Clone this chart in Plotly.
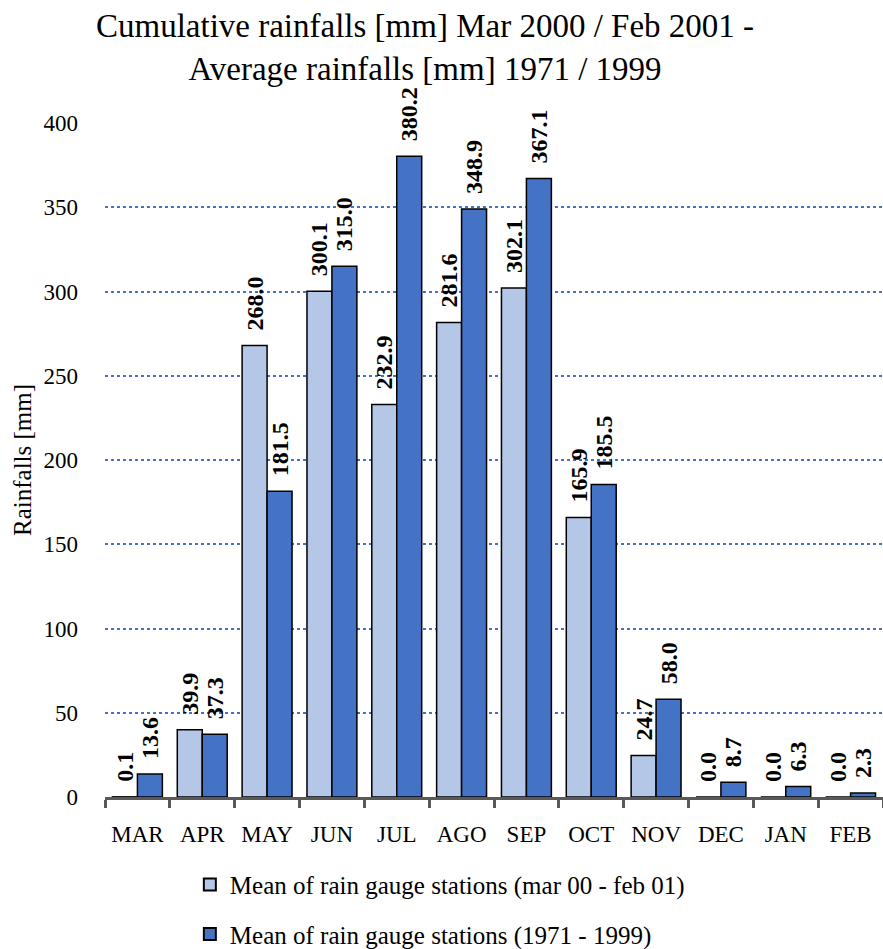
import plotly.graph_objects as go

months = ["MAR", "APR", "MAY", "JUN", "JUL", "AGO", "SEP", "OCT", "NOV", "DEC", "JAN", "FEB"]
rain_2000_01 = [0.1, 39.9, 268.0, 300.1, 232.9, 281.6, 302.1, 165.9, 24.7, 0.0, 0.0, 0.0]
rain_1971_99 = [13.6, 37.3, 181.5, 315.0, 380.2, 348.9, 367.1, 185.5, 58.0, 8.7, 6.3, 2.3]
y_ticks = [0, 50, 100, 150, 200, 250, 300, 350, 400]

serif = "Book Antiqua, Palatino Linotype, Liberation Serif, serif"
label_font = dict(family="Liberation Serif, Times New Roman, serif", size=24, color="black")
NBSP = "\u00a0"


def value_labels(values):
    # leading non-breaking spaces push the rotated label a little off the bar top
    return [f"<b>{NBSP * 2}{v:.1f}</b>" for v in values]


fig = go.Figure()
fig.add_trace(go.Bar(
    x=months, y=rain_2000_01,
    name="Mean of rain gauge stations (mar 00 - feb 01)", legendgroup="a",
    marker=dict(color="#B4C7E7", line=dict(color="black", width=1.5)),
    text=value_labels(rain_2000_01),
    textposition="outside", textangle=-90, textfont=label_font,
    constraintext="none", cliponaxis=False,
))
fig.add_trace(go.Bar(
    x=months, y=rain_1971_99,
    name="Mean of rain gauge stations (1971 - 1999)", legendgroup="b",
    marker=dict(color="#4472C4", line=dict(color="black", width=1.5)),
    text=value_labels(rain_1971_99),
    textposition="outside", textangle=-90, textfont=label_font,
    constraintext="none", cliponaxis=False,
))

fig.update_layout(
    width=883, height=949,
    paper_bgcolor="white", plot_bgcolor="white",
    margin=dict(l=105, r=0, t=123, b=152, autoexpand=False),
    barmode="group", bargap=0.23, bargroupgap=0,
    font=dict(family=serif, color="black"),
    legend=dict(
        orientation="v", xref="container", yref="container",
        x=0.215, xanchor="left", y=0.092, yanchor="top",
        font=dict(family=serif, size=25, color="black"),
        tracegroupgap=14, itemsizing="constant", bgcolor="rgba(0,0,0,0)",
        itemwidth=30,
    ),
    showlegend=True,
)

# two-line chart heading above the plot area
fig.add_annotation(
    text="Cumulative rainfalls [mm] Mar 2000 / Feb 2001 -<br>Average rainfalls [mm] 1971 / 1999",
    xref="paper", yref="paper", x=0.411, y=1.112,
    xanchor="center", yanchor="middle", showarrow=False, align="center",
    font=dict(family=serif, size=33, color="black"),
)

# vertical axis title, placed at the left edge of the page
fig.add_annotation(
    text="Rainfalls [mm]", textangle=-90,
    xref="paper", yref="paper", x=0, y=0.5, xshift=-83,
    xanchor="center", yanchor="middle", showarrow=False,
    font=dict(family=serif, size=25, color="black"),
)

fig.update_xaxes(
    showline=True, linecolor="#595959", linewidth=3,
    ticks="outside", tickson="boundaries", ticklen=8, tickwidth=3, tickcolor="#595959",
    tickfont=dict(family=serif, size=23, color="black"), tickangle=0,
    ticklabelstandoff=14,
    showgrid=False,
)
fig.update_yaxes(
    range=[0, 400], tickvals=y_ticks,
    showgrid=True, gridcolor="#4472C4", gridwidth=1.5, griddash="dot",
    zeroline=False, showline=False,
    ticks="", ticklabelstandoff=26,
    tickfont=dict(family=serif, size=23, color="black"),
)

fig.write_html("out.html")
